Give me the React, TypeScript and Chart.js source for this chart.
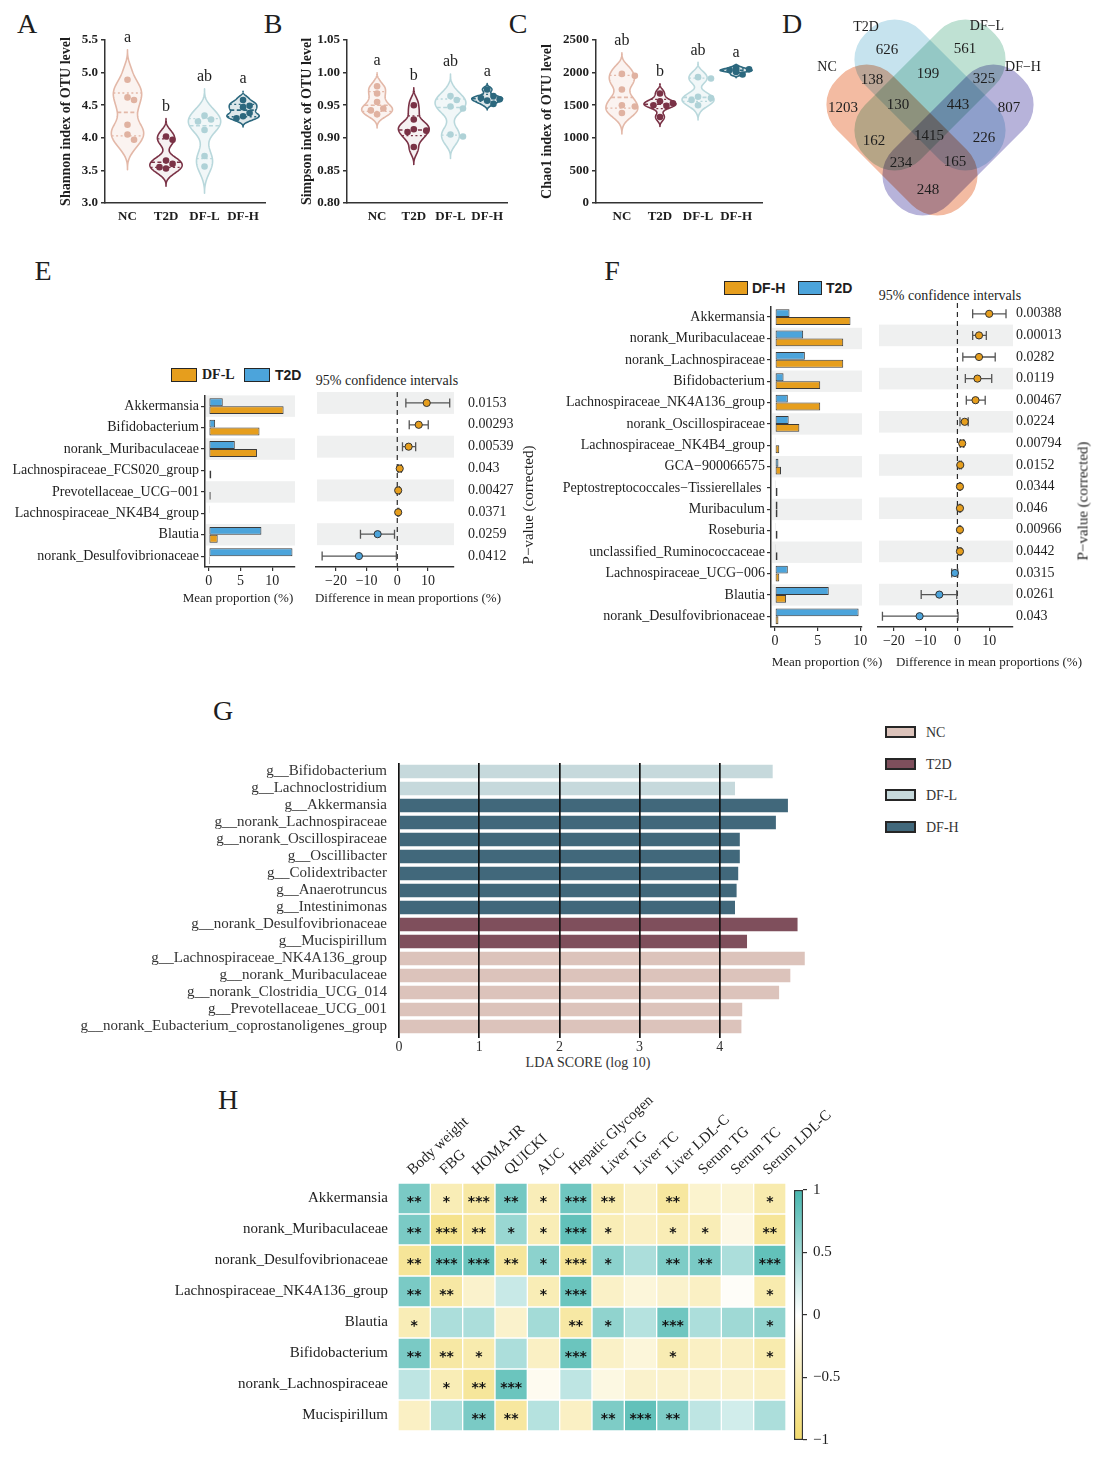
import React, { useEffect, useRef } from 'react';
import { Chart, registerables } from 'chart.js';

Chart.register(...registerables);

const SERIF = '"Liberation Serif", "Times New Roman", Times, serif';
const SANS = '"Liberation Sans", Arial, Helvetica, sans-serif';
const STAR_FONT = '"DejaVu Sans", "Liberation Sans", sans-serif';
const INK = '#1e1e1e';
const AXIS = '#333333';
const ORANGE = '#E69E1D';
const BLUE = '#4CA4DB';
const STRIPE = '#EFF0F0';

// ---------------- A–C: alpha diversity ----------------
const alphaGroups = ['NC', 'T2D', 'DF-L', 'DF-H'];
const shannonNC = [4.89, 4.62, 4.58, 4.2, 4.05, 3.97];
const shannonT2D = [4.02, 3.97, 3.65, 3.6, 3.55, 3.53];
const shannonDFL = [4.34, 4.28, 4.25, 4.12, 3.72, 3.56];
const shannonDFH = [4.58, 4.49, 4.47, 4.38, 4.33, 4.3];
const shannonLetters = ['a', 'b', 'ab', 'a'];
const simpsonNC = [0.979, 0.968, 0.955, 0.945, 0.942, 0.936];
const simpsonT2D = [0.95, 0.928, 0.913, 0.911, 0.909, 0.886];
const simpsonDFL = [0.964, 0.958, 0.948, 0.945, 0.905, 0.902];
const simpsonDFH = [0.974, 0.964, 0.961, 0.959, 0.957, 0.952];
const simpsonLetters = ['a', 'b', 'ab', 'a'];
const chaoNC = [1980, 1950, 1740, 1500, 1480, 1380];
const chaoT2D = [1680, 1560, 1530, 1500, 1490, 1320];
const chaoDFL = [1930, 1910, 1630, 1610, 1580, 1500];
const chaoDFH = [2080, 2050, 2040, 2030, 2010, 1970];
const chaoLetters = ['ab', 'b', 'ab', 'a'];

const violinStroke = ['#E3B8A8', '#7A3246', '#B9D8DC', '#2C687E'];
const violinFill = ['rgba(236,200,186,0.22)', 'rgba(122,50,70,0.07)', 'rgba(185,216,220,0.2)', 'rgba(44,104,126,0.16)'];
const violinDot = ['#E0B2A1', '#7A3246', '#AFD2D7', '#2C687E'];

// ---------------- D: Venn ----------------
const vennSets = ['NC', 'T2D', 'DF−L', 'DF−H'];
const vennCounts = [1203, 626, 561, 807, 138, 199, 325, 130, 443, 162, 1415, 226, 234, 165, 248];
const vennLabelXY = [[843, 108], [887, 50], [965, 49], [1009, 108], [872, 80], [928, 74], [984, 79], [898, 105], [958, 105], [874, 141], [929, 136], [984, 138], [901, 163], [955, 162], [928, 190]];
const vennSetXY = [[827, 67], [866, 27], [987, 26], [1023, 67]];

// ---------------- E: DF-L vs T2D ----------------
const eRows = ['Akkermansia', 'Bifidobacterium', 'norank_Muribaculaceae', 'Lachnospiraceae_FCS020_group', 'Prevotellaceae_UCG−001', 'Lachnospiraceae_NK4B4_group', 'Blautia', 'norank_Desulfovibrionaceae'];
const eMeanT2D = [2.2, 1.0, 4.1, 0.1, 0.1, 0.05, 8.3, 13.2];
const eMeanDFL = [11.8, 8.0, 7.6, 0.4, 0.3, 0.1, 1.4, 0.2];
const eDiff = [9.6, 7.0, 3.7, 0.8, 0.3, 0.3, -6.4, -12.5];
const eLow = [2.8, 3.9, 1.7, 0.3, 0.0, 0.1, -12.0, -24.5];
const eHigh = [17.1, 10.1, 6.0, 1.3, 0.7, 0.5, -0.9, -0.3];
const ePvals = ['0.0153', '0.00293', '0.00539', '0.043', '0.00427', '0.0371', '0.0259', '0.0412'];

// ---------------- F: DF-H vs T2D ----------------
const fRows = ['Akkermansia', 'norank_Muribaculaceae', 'norank_Lachnospiraceae', 'Bifidobacterium', 'Lachnospiraceae_NK4A136_group', 'norank_Oscillospiraceae', 'Lachnospiraceae_NK4B4_group', 'GCA−900066575', 'Peptostreptococcales−Tissierellales ', 'Muribaculum', 'Roseburia', 'unclassified_Ruminococcaceae', 'Lachnospiraceae_UCG−006', 'Blautia', 'norank_Desulfovibrionaceae'];
const fMeanT2D = [1.7, 3.3, 3.5, 1.0, 1.5, 1.6, 0.1, 0.4, 0.1, 0.3, 0.1, 0.1, 1.5, 6.3, 9.8];
const fMeanDFH = [8.85, 8.0, 8.0, 5.3, 5.3, 2.85, 0.5, 0.7, 0.3, 0.3, 0.3, 0.3, 0.5, 1.3, 0.4];
const fDiff = [10.0, 6.8, 6.8, 6.3, 5.7, 2.3, 1.5, 0.9, 0.8, 0.8, 0.8, 0.8, -0.8, -5.7, -11.9];
const fLow = [4.8, 4.8, 1.7, 2.5, 2.8, 0.8, 0.9, 0.6, 0.6, 0.6, 0.6, 0.5, -1.8, -11.4, -23.6];
const fHigh = [15.3, 9.1, 11.9, 10.8, 8.75, 3.4, 2.0, 1.2, 1.0, 1.0, 1.0, 1.1, 0.1, -0.2, 0.2];
const fPvals = ['0.00388', '0.00013', '0.0282', '0.0119', '0.00467', '0.0224', '0.00794', '0.0152', '0.0344', '0.046', '0.00966', '0.0442', '0.0315', '0.0261', '0.043'];

// ---------------- G: LEfSe ----------------
const ldaTaxa = ['g__Bifidobacterium', 'g__Lachnoclostridium', 'g__Akkermansia', 'g__norank_Lachnospiraceae', 'g__norank_Oscillospiraceae', 'g__Oscillibacter', 'g__Colidextribacter', 'g__Anaerotruncus', 'g__Intestinimonas', 'g__norank_Desulfovibrionaceae', 'g__Mucispirillum', 'g__Lachnospiraceae_NK4A136_group', 'g__norank_Muribaculaceae', 'g__norank_Clostridia_UCG_014', 'g__Prevotellaceae_UCG_001', 'g__norank_Eubacterium_coprostanoligenes_group'];
const ldaScores = [4.66, 4.19, 4.85, 4.70, 4.25, 4.25, 4.23, 4.21, 4.19, 4.97, 4.34, 5.06, 4.88, 4.74, 4.28, 4.27];
const ldaGroup = ['DF-L', 'DF-L', 'DF-H', 'DF-H', 'DF-H', 'DF-H', 'DF-H', 'DF-H', 'DF-H', 'T2D', 'T2D', 'NC', 'NC', 'NC', 'NC', 'NC'];
const ldaLegend = ['NC', 'T2D', 'DF-L', 'DF-H'];
const ldaColor: any = { NC: '#DCC3BB', T2D: '#7F4F5C', 'DF-L': '#C6D9DC', 'DF-H': '#41687B' };

// ---------------- H: correlation heatmap ----------------
const hmRows = ['Akkermansia', 'norank_Muribaculaceae', 'norank_Desulfovibrionaceae', 'Lachnospiraceae_NK4A136_group', 'Blautia', 'Bifidobacterium', 'norank_Lachnospiraceae', 'Mucispirillum'];
const hmCols = ['Body weight', 'FBG', 'HOMA-IR', 'QUICKI', 'AUC', 'Hepatic Glycogen', 'Liver TG', 'Liver TC', 'Liver LDL-C', 'Serum TG', 'Serum TC', 'Serum LDL-C'];
const rAkkermansia = [0.72, -0.5, -0.62, 0.75, -0.48, 0.78, -0.55, -0.38, -0.65, -0.33, -0.3, -0.55];
const rMuribaculaceae = [0.72, -0.78, -0.65, 0.55, -0.5, 0.85, -0.5, -0.4, -0.5, -0.5, -0.18, -0.7];
const rDesulfovibrionaceae = [-0.7, 0.8, 0.8, -0.68, 0.62, -0.72, 0.62, 0.45, 0.7, 0.72, 0.45, 0.85];
const rNK4A136 = [0.72, -0.62, -0.35, 0.3, -0.5, 0.8, -0.38, -0.25, -0.35, -0.4, -0.05, -0.55];
const rBlautia = [-0.5, 0.45, 0.45, -0.35, 0.5, -0.62, 0.6, 0.4, 0.78, 0.45, 0.52, 0.6];
const rBifidobacterium = [0.72, -0.62, -0.55, 0.45, -0.4, 0.8, -0.38, -0.25, -0.52, -0.4, -0.4, -0.55];
const rLachnospiraceae = [0.35, -0.5, -0.68, 0.8, -0.1, 0.35, -0.2, -0.35, -0.35, -0.35, -0.35, -0.4];
const rMucispirillum = [-0.4, 0.45, 0.72, -0.65, 0.4, -0.4, 0.7, 0.85, 0.7, 0.35, 0.25, 0.45];
const sAkkermansia = ['**', '*', '***', '**', '*', '***', '**', '', '**', '', '', '*'];
const sMuribaculaceae = ['**', '***', '**', '*', '*', '***', '*', '', '*', '*', '', '**'];
const sDesulfovibrionaceae = ['**', '***', '***', '**', '*', '***', '*', '', '**', '**', '', '***'];
const sNK4A136 = ['**', '**', '', '', '*', '***', '', '', '', '', '', '*'];
const sBlautia = ['*', '', '', '', '', '**', '*', '', '***', '', '', '*'];
const sBifidobacterium = ['**', '**', '*', '', '', '***', '', '', '*', '', '', '*'];
const sLachnospiraceae = ['', '*', '**', '***', '', '', '', '', '', '', '', ''];
const sMucispirillum = ['', '', '**', '**', '', '', '**', '***', '**', '', '', ''];
const colorbarTicks = [-1, -0.5, 0, 0.5, 1];

// ---------------- helpers ----------------
function corrColor(r: number) {
  const t = Math.min(1, Math.abs(r));
  const end = r >= 0 ? [70, 182, 174] : [242, 218, 108];
  const c = end.map((e) => Math.round(255 + (e - 255) * t));
  return `rgb(${c[0]},${c[1]},${c[2]})`;
}

function violinStats(vals: number[]) {
  const n = vals.length;
  const mean = vals.reduce((a, b) => a + b, 0) / n;
  const sd = Math.sqrt(vals.reduce((a, b) => a + (b - mean) ** 2, 0) / (n - 1));
  const bw = 2 * 0.9 * sd * Math.pow(n, -0.2);
  const dens = (y: number) => vals.reduce((acc, v) => {
    const u = (y - v) / bw;
    return Math.abs(u) < 1 ? acc + (1 - u * u) ** 3 : acc;
  }, 0);
  const lo = Math.min(...vals) - bw;
  const hi = Math.max(...vals) + bw;
  const ys: number[] = [];
  for (let k = 0; k <= 120; k++) ys.push(lo + ((hi - lo) * k) / 120);
  const dmax = Math.max(...ys.map(dens));
  const sorted = [...vals].sort((a, b) => a - b);
  const q = (p: number) => {
    const pos = p * (n + 1) - 1;
    const i = Math.floor(pos);
    const f = pos - i;
    const a = sorted[Math.max(0, Math.min(n - 1, i))];
    const b = sorted[Math.max(0, Math.min(n - 1, i + 1))];
    return a + (b - a) * f;
  };
  return { ys, half: (y: number) => (dens(y) / dmax) * 0.42, lo, hi, quart: [q(0.25), q(0.5), q(0.75)] };
}

function swarm(vals: number[], pxY: number, pxX: number, r: number) {
  const placed: { x: number; y: number }[] = [];
  const cands = [0, 0.17, -0.17, 0.34, -0.34];
  return vals.map((v) => {
    for (const c of cands) {
      const ok = placed.every((p) => Math.hypot((p.x - c) * pxX, (p.y - v) * pxY) >= 2 * r);
      if (ok) {
        placed.push({ x: c, y: v });
        return c;
      }
    }
    placed.push({ x: 0, y: v });
    return 0;
  });
}

const baseOpts = {
  responsive: false,
  animation: false,
  devicePixelRatio: 1,
  events: [],
};
const noPlugins = { legend: { display: false }, tooltip: { enabled: false } };

function makeViolin(series: number[][], letters: string[], yMin: number, yMax: number, yStep: number, dec: number, title: string, xMin: number, xMax: number, yW: number) {
  const pxY = 163 / (yMax - yMin);
  const pxX = 160 / (xMax - xMin);
  const stats = series.map(violinStats);
  const datasets = series.map((vals, gi) => {
    const offs = swarm(vals, pxY, pxX, 3.3);
    return {
      data: vals.map((v, k) => ({ x: gi + offs[k], y: v })),
      pointRadius: 3.3,
      pointHoverRadius: 3.3,
      pointBorderWidth: 0,
      pointBackgroundColor: violinDot[gi],
    };
  });
  const plugin = {
    id: 'violin',
    beforeDatasetsDraw(chart: any) {
      const { ctx, scales } = chart;
      const xs = scales.x;
      const ys = scales.y;
      stats.forEach((st, gi) => {
        ctx.save();
        ctx.beginPath();
        st.ys.forEach((yy, k) => {
          const px = xs.getPixelForValue(gi + st.half(yy));
          const py = ys.getPixelForValue(yy);
          if (k === 0) ctx.moveTo(px, py);
          else ctx.lineTo(px, py);
        });
        for (let k = st.ys.length - 1; k >= 0; k--) {
          const yy = st.ys[k];
          ctx.lineTo(xs.getPixelForValue(gi - st.half(yy)), ys.getPixelForValue(yy));
        }
        ctx.closePath();
        ctx.fillStyle = violinFill[gi];
        ctx.fill();
        ctx.strokeStyle = violinStroke[gi];
        ctx.lineWidth = 1.6;
        ctx.lineJoin = 'round';
        ctx.stroke();
        st.quart.forEach((q, qi) => {
          const w = st.half(q);
          ctx.setLineDash(qi === 1 ? [4, 2.5] : [2, 2.5]);
          ctx.lineWidth = qi === 1 ? 1.6 : 1.3;
          ctx.beginPath();
          ctx.moveTo(xs.getPixelForValue(gi - w), ys.getPixelForValue(q));
          ctx.lineTo(xs.getPixelForValue(gi + w), ys.getPixelForValue(q));
          ctx.stroke();
        });
        ctx.restore();
      });
    },
    afterDatasetsDraw(chart: any) {
      const { ctx, scales } = chart;
      ctx.save();
      ctx.font = `16px ${SERIF}`;
      ctx.fillStyle = INK;
      ctx.textAlign = 'center';
      ctx.textBaseline = 'middle';
      stats.forEach((st, gi) => ctx.fillText(letters[gi], scales.x.getPixelForValue(gi), scales.y.getPixelForValue(st.hi) - 12));
      ctx.restore();
    },
  };
  return {
    type: 'scatter',
    data: { datasets },
    options: {
      ...baseOpts,
      layout: { padding: { top: 20, right: 5, left: 0, bottom: 0 } },
      plugins: noPlugins,
      scales: {
        x: {
          type: 'linear', min: xMin, max: xMax,
          afterBuildTicks: (s: any) => { s.ticks = [0, 1, 2, 3].map((value) => ({ value })); },
          ticks: { callback: (_v: any, i: number) => alphaGroups[i], font: { family: SERIF, size: 13, weight: 'bold' }, color: INK, padding: 6, autoSkip: false, maxRotation: 0 },
          grid: { display: false, drawTicks: false },
          border: { display: true, color: AXIS, width: 1.5 },
          afterFit: (s: any) => { s.height = 32; },
        },
        y: {
          type: 'linear', min: yMin, max: yMax,
          ticks: { stepSize: yStep, callback: (v: any) => Number(v).toFixed(dec), font: { family: SERIF, size: 13, weight: 'bold' }, color: INK, padding: 3 },
          grid: { drawOnChartArea: false, tickLength: 4, color: AXIS, lineWidth: 1.5 },
          border: { color: AXIS, width: 1.5 },
          title: { display: true, text: title, font: { family: SERIF, size: 14, weight: 'bold' }, color: INK, padding: { top: 0, bottom: 0 } },
          afterFit: (s: any) => { s.width = yW; },
        },
      },
    },
    plugins: [plugin],
  };
}

function makeVenn() {
  const shapes = [
    { c: [902, 140], a: 45, col: '#F3BBA2' },
    { c: [930, 95], a: 45, col: '#C6E3EE' },
    { c: [930, 95], a: -45, col: '#BFE1D3' },
    { c: [958, 140], a: -45, col: '#B7B3DA' },
  ];
  const L = 89, W = 39, R = 36;
  const plugin = {
    id: 'venn',
    afterDraw(chart: any) {
      const { ctx, scales } = chart;
      const xs = scales.x;
      const ys = scales.y;
      const s = xs.getPixelForValue(1) - xs.getPixelForValue(0);
      ctx.save();
      ctx.globalCompositeOperation = 'multiply';
      shapes.forEach((sh) => {
        ctx.save();
        ctx.translate(xs.getPixelForValue(sh.c[0]), ys.getPixelForValue(sh.c[1]));
        ctx.rotate((sh.a * Math.PI) / 180);
        ctx.beginPath();
        ctx.roundRect(-L * s, -W * s, 2 * L * s, 2 * W * s, R * s);
        ctx.fillStyle = sh.col;
        ctx.fill();
        ctx.restore();
      });
      ctx.globalCompositeOperation = 'source-over';
      ctx.fillStyle = INK;
      ctx.textAlign = 'center';
      ctx.textBaseline = 'middle';
      ctx.font = `15px ${SERIF}`;
      vennCounts.forEach((v, i) => ctx.fillText(String(v), xs.getPixelForValue(vennLabelXY[i][0]), ys.getPixelForValue(vennLabelXY[i][1])));
      ctx.font = `14px ${SERIF}`;
      vennSets.forEach((n, i) => ctx.fillText(n, xs.getPixelForValue(vennSetXY[i][0]), ys.getPixelForValue(vennSetXY[i][1])));
      ctx.restore();
    },
  };
  return {
    type: 'scatter',
    data: { datasets: [] },
    options: {
      ...baseOpts,
      layout: { padding: 0 },
      plugins: noPlugins,
      scales: {
        x: { type: 'linear', min: 780, max: 1100, display: false },
        y: { type: 'linear', min: 0, max: 230, reverse: true, display: false },
      },
    },
    plugins: [plugin],
  };
}

function stripePlugin(parity: number) {
  return {
    id: 'stripes',
    beforeDraw(chart: any) {
      const { ctx, chartArea: a } = chart;
      const sc = chart.scales.y;
      const n = sc.getLabels().length;
      const band = (a.bottom - a.top) / n;
      ctx.save();
      ctx.fillStyle = STRIPE;
      for (let i = 0; i < n; i++) {
        if (i % 2 === parity) {
          const c = sc.getPixelForValue(i);
          ctx.fillRect(a.left + 1, c - band / 2, a.right - a.left - 1, band);
        }
      }
      ctx.restore();
    },
  };
}

function makeMeanBars(rows: string[], t2d: number[], trt: number[], xMin: number, xMax: number, yW: number, xH: number, padTop: number, padRight: number, parity: number) {
  return {
    type: 'bar',
    data: {
      labels: rows,
      datasets: [
        { data: t2d, backgroundColor: BLUE, borderColor: '#3a3a3a', borderWidth: 1, borderSkipped: false },
        { data: trt, backgroundColor: ORANGE, borderColor: '#3a3a3a', borderWidth: 1, borderSkipped: false },
      ],
    },
    options: {
      ...baseOpts,
      indexAxis: 'y',
      datasets: { bar: { categoryPercentage: 0.74, barPercentage: 1 } },
      layout: { padding: { top: padTop, right: padRight, left: 0, bottom: 0 } },
      plugins: noPlugins,
      scales: {
        x: {
          type: 'linear', min: xMin, max: xMax,
          afterBuildTicks: (s: any) => { s.ticks = [0, 5, 10].map((value) => ({ value })); },
          ticks: { font: { family: SERIF, size: 14 }, color: INK, padding: 2 },
          grid: { drawOnChartArea: false, tickLength: 4, color: AXIS, lineWidth: 1.2 },
          border: { color: AXIS, width: 1.5 },
          afterFit: (s: any) => { s.height = xH; },
        },
        y: {
          ticks: { font: { family: SERIF, size: 14 }, color: INK, padding: 2, autoSkip: false },
          grid: { drawOnChartArea: false, tickLength: 4, color: AXIS, lineWidth: 1.2, offset: false },
          border: { color: AXIS, width: 1.5 },
          afterFit: (s: any) => { s.width = yW; },
        },
      },
    },
    plugins: [stripePlugin(parity)],
  };
}

function makeCI(rows: string[], pvals: string[], diff: number[], low: number[], high: number[], xMin: number, xMax: number, padLeft: number, padTop: number, padRight: number, xH: number, pPad: number, parity: number) {
  const ciPlugin = {
    id: 'ci',
    beforeDatasetsDraw(chart: any) {
      const { ctx, chartArea: a, scales } = chart;
      const xs = scales.x;
      const ys = scales.y;
      ctx.save();
      const x0 = xs.getPixelForValue(0);
      ctx.strokeStyle = '#2a2a2a';
      ctx.lineWidth = 1.2;
      ctx.setLineDash([5, 4]);
      ctx.beginPath();
      ctx.moveTo(x0, a.top);
      ctx.lineTo(x0, a.bottom);
      ctx.stroke();
      ctx.setLineDash([]);
      ctx.strokeStyle = '#555';
      ctx.lineWidth = 1.3;
      rows.forEach((_r, i) => {
        const py = ys.getPixelForValue(i);
        const l = xs.getPixelForValue(low[i]);
        const h = xs.getPixelForValue(high[i]);
        ctx.beginPath();
        ctx.moveTo(l, py);
        ctx.lineTo(h, py);
        ctx.moveTo(l, py - 4.5);
        ctx.lineTo(l, py + 4.5);
        ctx.moveTo(h, py - 4.5);
        ctx.lineTo(h, py + 4.5);
        ctx.stroke();
      });
      ctx.restore();
    },
    afterDraw(chart: any) {
      const { ctx, chartArea: a, scales } = chart;
      ctx.save();
      ctx.font = `14px ${SERIF}`;
      ctx.fillStyle = INK;
      ctx.textAlign = 'left';
      ctx.textBaseline = 'middle';
      pvals.forEach((p, i) => ctx.fillText(p, a.right + pPad, scales.y.getPixelForValue(i)));
      ctx.restore();
    },
  };
  return {
    type: 'scatter',
    data: {
      datasets: [{
        data: diff.map((d, i) => ({ x: d, y: rows[i] })),
        pointRadius: 3.6,
        pointHoverRadius: 3.6,
        pointBackgroundColor: diff.map((d) => (d >= 0 ? ORANGE : BLUE)),
        pointBorderColor: '#333',
        pointBorderWidth: 1,
      }],
    },
    options: {
      ...baseOpts,
      layout: { padding: { left: padLeft, top: padTop, right: padRight, bottom: 0 } },
      plugins: noPlugins,
      scales: {
        x: {
          type: 'linear', min: xMin, max: xMax,
          afterBuildTicks: (s: any) => { s.ticks = [-20, -10, 0, 10].map((value) => ({ value })); },
          ticks: { callback: (v: any) => (v < 0 ? '−' + Math.abs(v) : String(v)), font: { family: SERIF, size: 14 }, color: INK, padding: 2 },
          grid: { drawOnChartArea: false, tickLength: 4, color: AXIS, lineWidth: 1.2 },
          border: { color: AXIS, width: 1.5 },
          afterFit: (s: any) => { s.height = xH; },
        },
        y: { type: 'category', labels: rows, offset: true, display: false },
      },
    },
    plugins: [stripePlugin(parity), ciPlugin],
  };
}

function makeLDA() {
  return {
    type: 'bar',
    data: {
      labels: ldaTaxa,
      datasets: [{ data: ldaScores, backgroundColor: ldaGroup.map((g) => ldaColor[g]), borderWidth: 0 }],
    },
    options: {
      ...baseOpts,
      indexAxis: 'y',
      datasets: { bar: { categoryPercentage: 1, barPercentage: 0.8 } },
      layout: { padding: { top: 12, right: 20, left: 0, bottom: 0 } },
      plugins: noPlugins,
      scales: {
        x: {
          type: 'linear', min: 0, max: 5.25, z: 1,
          afterBuildTicks: (s: any) => { s.ticks = [0, 1, 2, 3, 4].map((value) => ({ value })); },
          ticks: { font: { family: SERIF, size: 14 }, color: '#333', padding: 1 },
          grid: { color: '#111', lineWidth: 1.7, tickLength: 3, z: 1 },
          border: { display: false },
          afterFit: (s: any) => { s.height = 20; },
        },
        y: {
          ticks: { font: { family: SERIF, size: 15 }, color: '#333', padding: 4, autoSkip: false },
          grid: { display: false },
          border: { display: false },
          afterFit: (s: any) => { s.width = 319; },
        },
      },
    },
  };
}

function makeHeat() {
  const rowVals = [rAkkermansia, rMuribaculaceae, rDesulfovibrionaceae, rNK4A136, rBlautia, rBifidobacterium, rLachnospiraceae, rMucispirillum];
  const rowStars = [sAkkermansia, sMuribaculaceae, sDesulfovibrionaceae, sNK4A136, sBlautia, sBifidobacterium, sLachnospiraceae, sMucispirillum];
  const starPlugin = {
    id: 'stars',
    afterDatasetsDraw(chart: any) {
      const { ctx, scales } = chart;
      ctx.save();
      ctx.font = `bold 14px ${STAR_FONT}`;
      ctx.fillStyle = '#111';
      ctx.textAlign = 'center';
      ctx.textBaseline = 'middle';
      rowStars.forEach((row, ri) => row.forEach((s, ci) => {
        if (s) ctx.fillText(s, scales.x.getPixelForValue(ci), scales.yRows.getPixelForValue(ri) + 4);
      }));
      ctx.restore();
    },
  };
  return {
    type: 'bar',
    data: {
      labels: hmCols,
      datasets: rowVals.map((vals) => ({
        data: vals.map(() => 1),
        backgroundColor: vals.map(corrColor),
        borderColor: '#ffffff',
        borderWidth: 1,
        borderSkipped: false,
      })),
    },
    options: {
      ...baseOpts,
      datasets: { bar: { categoryPercentage: 1, barPercentage: 1 } },
      layout: { padding: { top: 0, right: 94, left: 0, bottom: 7 } },
      plugins: noPlugins,
      scales: {
        x: {
          position: 'top', stacked: true, offset: true,
          grid: { display: false, drawTicks: false },
          border: { display: false },
          ticks: { font: { family: SERIF, size: 15 }, color: INK, minRotation: 43, maxRotation: 43, autoSkip: false, padding: 4, labelOffset: 8 },
          afterFit: (s: any) => { s.height = 93; },
        },
        y: { type: 'linear', stacked: true, min: 0, max: 8, reverse: true, display: false },
        yRows: {
          type: 'category', labels: hmRows, offset: true, position: 'left',
          grid: { display: false, drawTicks: false },
          border: { display: false },
          ticks: { font: { family: SERIF, size: 15 }, color: INK, padding: 10, autoSkip: false },
          afterFit: (s: any) => { s.width = 238; },
        },
      },
    },
    plugins: [starPlugin],
  };
}

function makeColorbar() {
  return {
    type: 'bar',
    data: {
      labels: [''],
      datasets: [{
        data: [[-1, 1]],
        backgroundColor: (c: any) => {
          const a = c.chart.chartArea;
          if (!a) return '#fff';
          const g = c.chart.ctx.createLinearGradient(0, a.bottom, 0, a.top);
          g.addColorStop(0, corrColor(-1));
          g.addColorStop(0.5, '#ffffff');
          g.addColorStop(1, corrColor(1));
          return g;
        },
        borderColor: '#333',
        borderWidth: 1.5,
        borderSkipped: false,
      }],
    },
    options: {
      ...baseOpts,
      datasets: { bar: { categoryPercentage: 1, barPercentage: 1 } },
      layout: { padding: { left: 9, top: 10, bottom: 12, right: 0 } },
      plugins: noPlugins,
      scales: {
        x: { display: false },
        y: {
          position: 'right', min: -1, max: 1,
          afterBuildTicks: (s: any) => { s.ticks = colorbarTicks.map((value) => ({ value })); },
          ticks: { callback: (v: any) => (v < 0 ? '−' + Math.abs(v) : String(v)), font: { family: SERIF, size: 15 }, color: INK, padding: 6 },
          grid: { drawOnChartArea: false, tickLength: 4, color: AXIS, lineWidth: 1.2 },
          border: { display: false },
          afterFit: (s: any) => { s.width = 57; },
        },
      },
    },
  };
}

// ---------------- React parts ----------------
function ChartBox({ x, y, w, h, make }: any) {
  const ref = useRef<HTMLCanvasElement | null>(null);
  useEffect(() => {
    const chart = new Chart(ref.current as HTMLCanvasElement, make());
    return () => chart.destroy();
  }, []);
  return <canvas ref={ref} width={w} height={h} style={{ position: 'absolute', left: x, top: y, width: w, height: h }} />;
}

function Txt({ x, y, text, size = 14, weight = 'normal', family = SERIF, align = 'center', rotate = 0, color = INK }: any) {
  const tx = align === 'center' ? '-50%' : align === 'right' ? '-100%' : '0%';
  return (
    <div style={{ position: 'absolute', left: x, top: y, transform: `translate(${tx}, -50%)${rotate ? ` rotate(${rotate}deg)` : ''}`, fontFamily: family, fontSize: size, fontWeight: weight, color, whiteSpace: 'pre', lineHeight: 1 }}>
      {text}
    </div>
  );
}

function Box({ x, y, w, h, fill, bw = 1.5 }: any) {
  return <div style={{ position: 'absolute', left: x, top: y, width: w, height: h, background: fill, border: `${bw}px solid #262626`, boxSizing: 'border-box' }} />;
}

export default function App() {
  const letters = [['A', 27, 24], ['B', 273, 24], ['C', 518, 24], ['D', 792, 24], ['E', 43, 271], ['F', 612, 271], ['G', 223, 711], ['H', 228, 1100]];
  return (
    <div style={{ position: 'absolute', left: 0, top: 0, width: 1100, height: 1461, background: '#fff', overflow: 'hidden' }}>
      {letters.map(([t, x, y]) => <Txt key={t as string} x={x} y={y} text={t} size={28} />)}

      <ChartBox x={58} y={20} w={212} h={215} make={() => makeViolin([shannonNC, shannonT2D, shannonDFL, shannonDFH], shannonLetters, 3.0, 5.5, 0.5, 1, 'Shannon index of OTU level', -0.584, 3.57, 47)} />
      <ChartBox x={299} y={20} w={213} h={215} make={() => makeViolin([simpsonNC, simpsonT2D, simpsonDFL, simpsonDFH], simpsonLetters, 0.8, 1.05, 0.05, 2, 'Simpson index of OTU level', -0.82, 3.54, 48)} />
      <ChartBox x={539} y={20} w={228} h={215} make={() => makeViolin([chaoNC, chaoT2D, chaoDFL, chaoDFH], chaoLetters, 0, 2500, 500, 0, 'Chao1 index of OTU level', -0.68, 3.68, 57)} />
      <ChartBox x={780} y={0} w={320} h={230} make={makeVenn} />

      {/* E */}
      <Box x={171} y={368} w={26} h={14} fill={ORANGE} />
      <Txt x={202} y={375} text="DF-L" size={14} weight="bold" align="left" />
      <Box x={244} y={368} w={26} h={14} fill={BLUE} />
      <Txt x={275} y={375} text="T2D" size={14} weight="bold" family={SANS} align="left" />
      <Txt x={387} y={381} text="95% confidence intervals" size={14} />
      <ChartBox x={0} y={385} w={300} h={210} make={() => makeMeanBars(eRows, eMeanT2D, eMeanDFL, -0.6, 13.6, 205, 28, 7, 5, 0)} />
      <ChartBox x={310} y={385} w={230} h={210} make={() => makeCI(eRows, ePvals, eDiff, eLow, eHigh, -26.5, 18.5, 6, 7, 86, 28, 14, 0)} />
      <Txt x={238} y={597} text="Mean proportion (%)" size={13} />
      <Txt x={408} y={597} text="Difference in mean proportions (%)" size={13} />
      <Txt x={528} y={505} text="P−value (corrected)" size={15} rotate={-90} />

      {/* F */}
      <Box x={724} y={281} w={24} h={14} fill={ORANGE} />
      <Txt x={752} y={288} text="DF-H" size={14} weight="bold" family={SANS} align="left" />
      <Box x={798} y={281} w={24} h={14} fill={BLUE} />
      <Txt x={826} y={288} text="T2D" size={14} weight="bold" family={SANS} align="left" />
      <Txt x={950} y={296} text="95% confidence intervals" size={14} />
      <ChartBox x={540} y={296} w={330} h={356} make={() => makeMeanBars(fRows, fMeanT2D, fMeanDFH, -0.47, 10.2, 231, 25, 7, 8, 1)} />
      <ChartBox x={872} y={296} w={228} h={356} make={() => makeCI(fRows, fPvals, fDiff, fLow, fHigh, -25, 17.5, 6, 7, 87, 25, 3, 1)} />
      <Txt x={827} y={661} text="Mean proportion (%)" size={13} />
      <Txt x={989} y={661} text="Difference in mean proportions (%)" size={13} />
      <Txt x={1083} y={501} text="P−value (corrected)" size={15} rotate={-90} />

      {/* G */}
      <ChartBox x={80} y={750} w={760} h={305} make={makeLDA} />
      <Txt x={588} y={1063} text="LDA SCORE (log 10)" size={14} color="#333" />
      {ldaLegend.map((g, i) => (
        <React.Fragment key={g}>
          <Box x={885} y={726 + i * 31.7} w={31} h={12} fill={ldaColor[g]} bw={2} />
          <Txt x={926} y={733 + i * 31.7} text={g} size={14} align="left" color="#333" />
        </React.Fragment>
      ))}

      {/* H */}
      <ChartBox x={160} y={1090} w={720} h={360} make={makeHeat} />
      <ChartBox x={785} y={1175} w={75} h={280} make={makeColorbar} />
    </div>
  );
}
